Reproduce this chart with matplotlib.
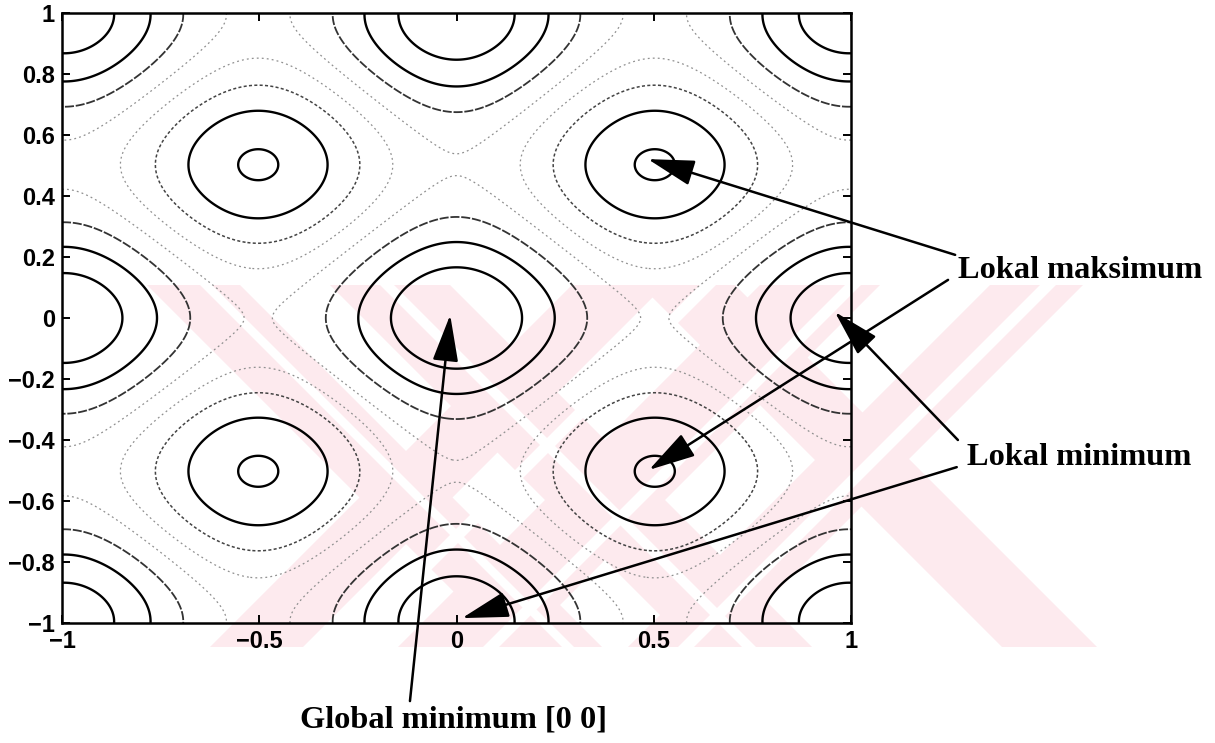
import numpy as np
import matplotlib
matplotlib.use("Agg")
import matplotlib.pyplot as plt
from matplotlib.patches import Polygon

# ---- data ----
x_ticks = [-1, -0.5, 0, 0.5, 1]
x_tick_labels = ["\u22121", "\u22120.5", "0", "0.5", "1"]
y_ticks = [-1, -0.8, -0.6, -0.4, -0.2, 0, 0.2, 0.4, 0.6, 0.8, 1]
y_tick_labels = ["\u22121", "\u22120.8", "\u22120.6", "\u22120.4", "\u22120.2", "0",
                 "0.2", "0.4", "0.6", "0.8", "1"]
levels = [5, 10, 15, 20, 25, 30, 35, 40]
level_colors = ["#000000", "#000000", "#333333", "#909090", "#909090", "#444444", "#000000", "#000000"]
level_widths = [1.7, 1.7, 1.3, 0.9, 0.9, 1.1, 1.7, 1.7]
level_styles = ["solid", "solid", (0, (5, 1)), (0, (1.5, 2.5)), (0, (1.5, 2.5)), (0, (2, 1.5)), "solid", "solid"]

# annotations: label, label position (figure px, baseline), arrows (tail data, tip data)
labels = ["Lokal maksimum", "Lokal minimum", "Global minimum [0 0]"]
label_px = [(958, 278), (967, 465), (300, 728)]
arrow_tails = [(1.264, 0.207), (1.246, 0.125), (1.271, -0.40), (1.268, -0.489), (-0.118, -1.256)]
arrow_tips = [(0.485, 0.521), (0.488, -0.498), (0.959, 0.020), (0.014, -0.984), (-0.016, 0.010)]

W, H = 1215, 743
fig = plt.figure(figsize=(W / 100, H / 100), dpi=100)
fig.patch.set_facecolor("white")

# ---- watermark (light pink diagonal bands, figure pixels) ----
def band(x_top0, x_top1, x_bot0, x_bot1, y_top=285, y_bot=647):
    pts = [(x_top0, y_top), (x_top1, y_top), (x_bot1, y_bot), (x_bot0, y_bot)]
    return [(px / W, 1 - py / H) for px, py in pts]

pink = "#fdeaee"
bands = [
    band(147, 240, 509, 602),
    band(572, 665, 210, 303),
    band(330, 450, 692, 812),
    band(760, 880, 398, 518),
    band(640, 735, 1002, 1097),
    band(990, 1083, 628, 721),
]
for b in bands:
    fig.patches.append(Polygon(b, closed=True, transform=fig.transFigure,
                               facecolor=pink, edgecolor="none", zorder=-5))
# thin white stripes breaking up the bands
stripes = [
    band(700, 716, 338, 354),
    band(845, 861, 483, 499),
    band(1040, 1056, 678, 694),
    band(380, 394, 742, 756),
    band(200, 212, 562, 574),
]
for s in stripes:
    fig.patches.append(Polygon(s, closed=True, transform=fig.transFigure,
                               facecolor="white", edgecolor="none", zorder=-4))

ax = fig.add_axes([62 / W, 1 - 623 / H, (851 - 62) / W, (623 - 13) / H])
ax.patch.set_alpha(0)

xs = np.linspace(-1, 1, 801)
ys = np.linspace(-1, 1, 801)
X, Y = np.meshgrid(xs, ys)
Z = 20 + X**2 + Y**2 - 10 * np.cos(2 * np.pi * X) - 10 * np.cos(2 * np.pi * Y)
cs = ax.contour(X, Y, Z, levels=levels, colors=level_colors, linewidths=level_widths,
                linestyles=level_styles)

ax.set_xlim(-1, 1)
ax.set_ylim(-1, 1)
ax.set_xticks(x_ticks)
ax.set_xticklabels(x_tick_labels)
ax.set_yticks(y_ticks)
ax.set_yticklabels(y_tick_labels)
ax.tick_params(direction="in", length=6, width=1.4, top=True, right=True,
               labelsize=17, pad=5)
for lab in ax.get_xticklabels() + ax.get_yticklabels():
    lab.set_family("Liberation Sans")
    lab.set_fontweight("bold")
for sp in ax.spines.values():
    sp.set_linewidth(1.8)

for tail, tip in zip(arrow_tails, arrow_tips):
    ax.annotate("", xy=tip, xytext=tail, xycoords="data", textcoords="data",
                annotation_clip=False,
                arrowprops=dict(arrowstyle="-|>,head_length=1.45,head_width=0.4",
                                mutation_scale=20, color="black", lw=1.8,
                                shrinkA=0, shrinkB=0))

for lab, (px, py) in zip(labels, label_px):
    fig.text(px / W, 1 - py / H, lab, family="Liberation Serif", fontweight="bold",
             fontsize=23.3, ha="left", va="baseline")

fig.savefig("out.png", dpi=100)
